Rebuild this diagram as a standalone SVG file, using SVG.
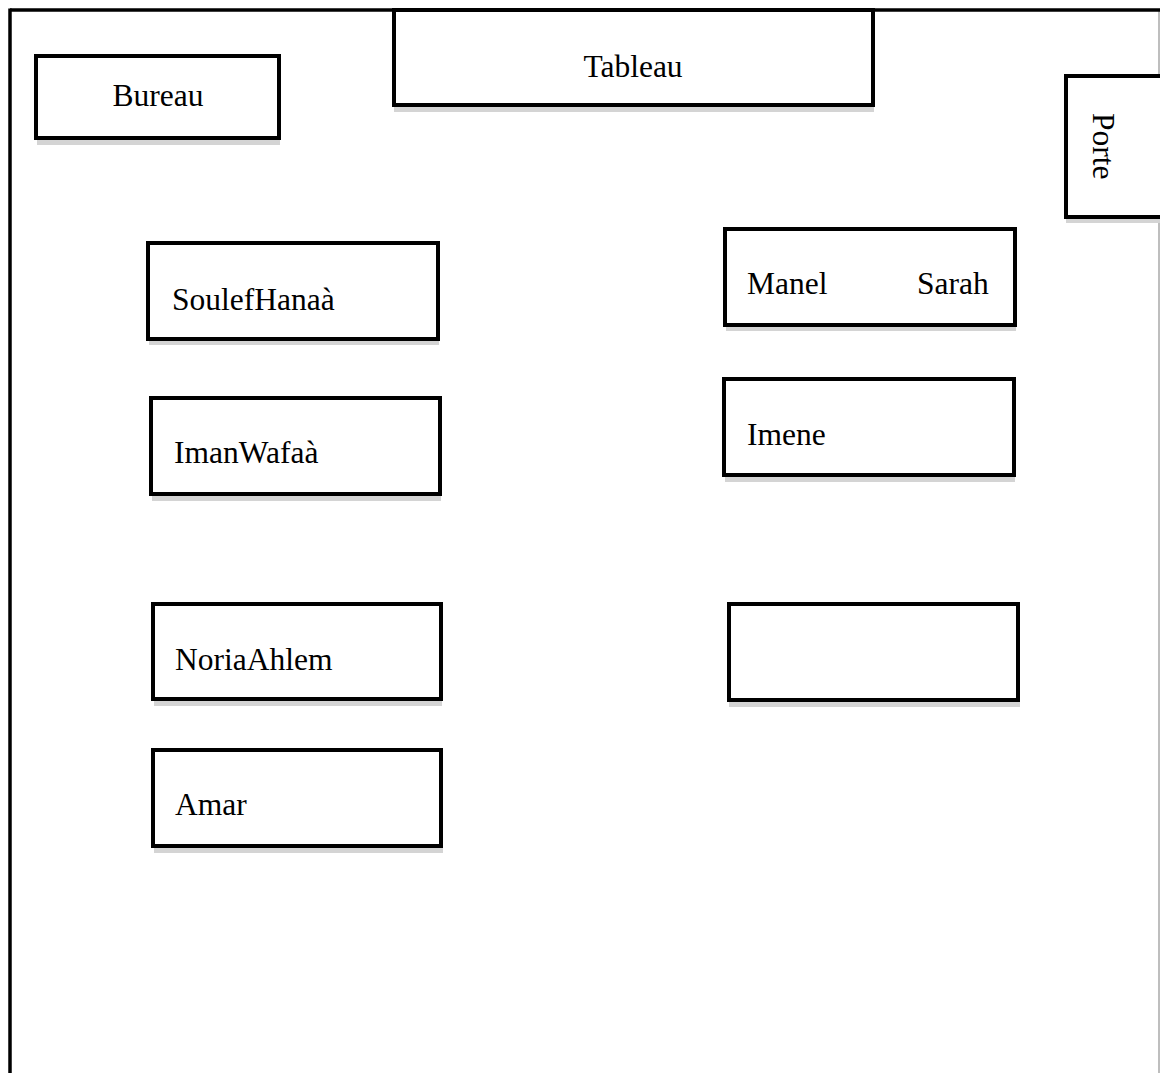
<svg xmlns="http://www.w3.org/2000/svg" width="1160" height="1073" viewBox="0 0 1160 1073">
<style>
.box{fill:#fff;stroke:#000;stroke-width:4}
.sh{fill:#d4d4d4}
.t{font-family:"Liberation Serif","Times New Roman",serif;font-size:31.5px;fill:#000}
</style>
<rect width="1160" height="1073" fill="#fff"/>
<g id="room">
<line x1="1159" y1="10" x2="1159" y2="1073" stroke="#a8a8a8" stroke-width="1.5"/>
<line x1="10" y1="10" x2="1160" y2="10" stroke="#000" stroke-width="3.5"/>
<line x1="10" y1="8.5" x2="10" y2="1073" stroke="#000" stroke-width="3.5"/>
</g>
<g id="bureau">
<rect class="sh" x="37" y="140" width="243" height="5"/>
<rect class="box" x="36" y="56" width="243" height="82"/>
<text class="t" x="158" y="106" text-anchor="middle">Bureau</text>
</g>
<g id="tableau">
<rect class="sh" x="394" y="107" width="480" height="5"/>
<rect class="box" x="394" y="10" width="479" height="95"/>
<text class="t" x="633" y="77" text-anchor="middle">Tableau</text>
</g>
<g id="porte">
<rect class="sh" x="1066" y="219" width="96" height="4"/>
<rect class="box" x="1066" y="76" width="96" height="141"/>
<text class="t" transform="translate(1093,113) rotate(90)">Porte</text>
</g>
<g id="soulef-hanaa">
<rect class="sh" x="149" y="340" width="290" height="5"/>
<rect class="box" x="148" y="243" width="290" height="96"/>
<text class="t" x="172" y="310">SoulefHanaà</text>
</g>
<g id="manel-sarah">
<rect class="sh" x="726" y="326" width="290" height="5"/>
<rect class="box" x="725" y="229" width="290" height="96"/>
<text class="t" x="747" y="294">Manel</text>
<text class="t" x="917" y="294">Sarah</text>
</g>
<g id="iman-wafaa">
<rect class="sh" x="152" y="496" width="289" height="5"/>
<rect class="box" x="151" y="398" width="289" height="96"/>
<text class="t" x="174" y="463">ImanWafaà</text>
</g>
<g id="imene">
<rect class="sh" x="725" y="477" width="290" height="5"/>
<rect class="box" x="724" y="379" width="290" height="96"/>
<text class="t" x="747" y="445">Imene</text>
</g>
<g id="noria-ahlem">
<rect class="sh" x="154" y="701" width="288" height="5"/>
<rect class="box" x="153" y="604" width="288" height="95"/>
<text class="t" x="175" y="670">NoriaAhlem</text>
</g>
<g id="empty-desk">
<rect class="sh" x="729" y="702" width="291" height="5"/>
<rect class="box" x="729" y="604" width="289" height="96"/>
</g>
<g id="amar">
<rect class="sh" x="154" y="848" width="289" height="5"/>
<rect class="box" x="153" y="750" width="288" height="96"/>
<text class="t" x="175" y="815">Amar</text>
</g>
<g id="connectors"></g>
</svg>
